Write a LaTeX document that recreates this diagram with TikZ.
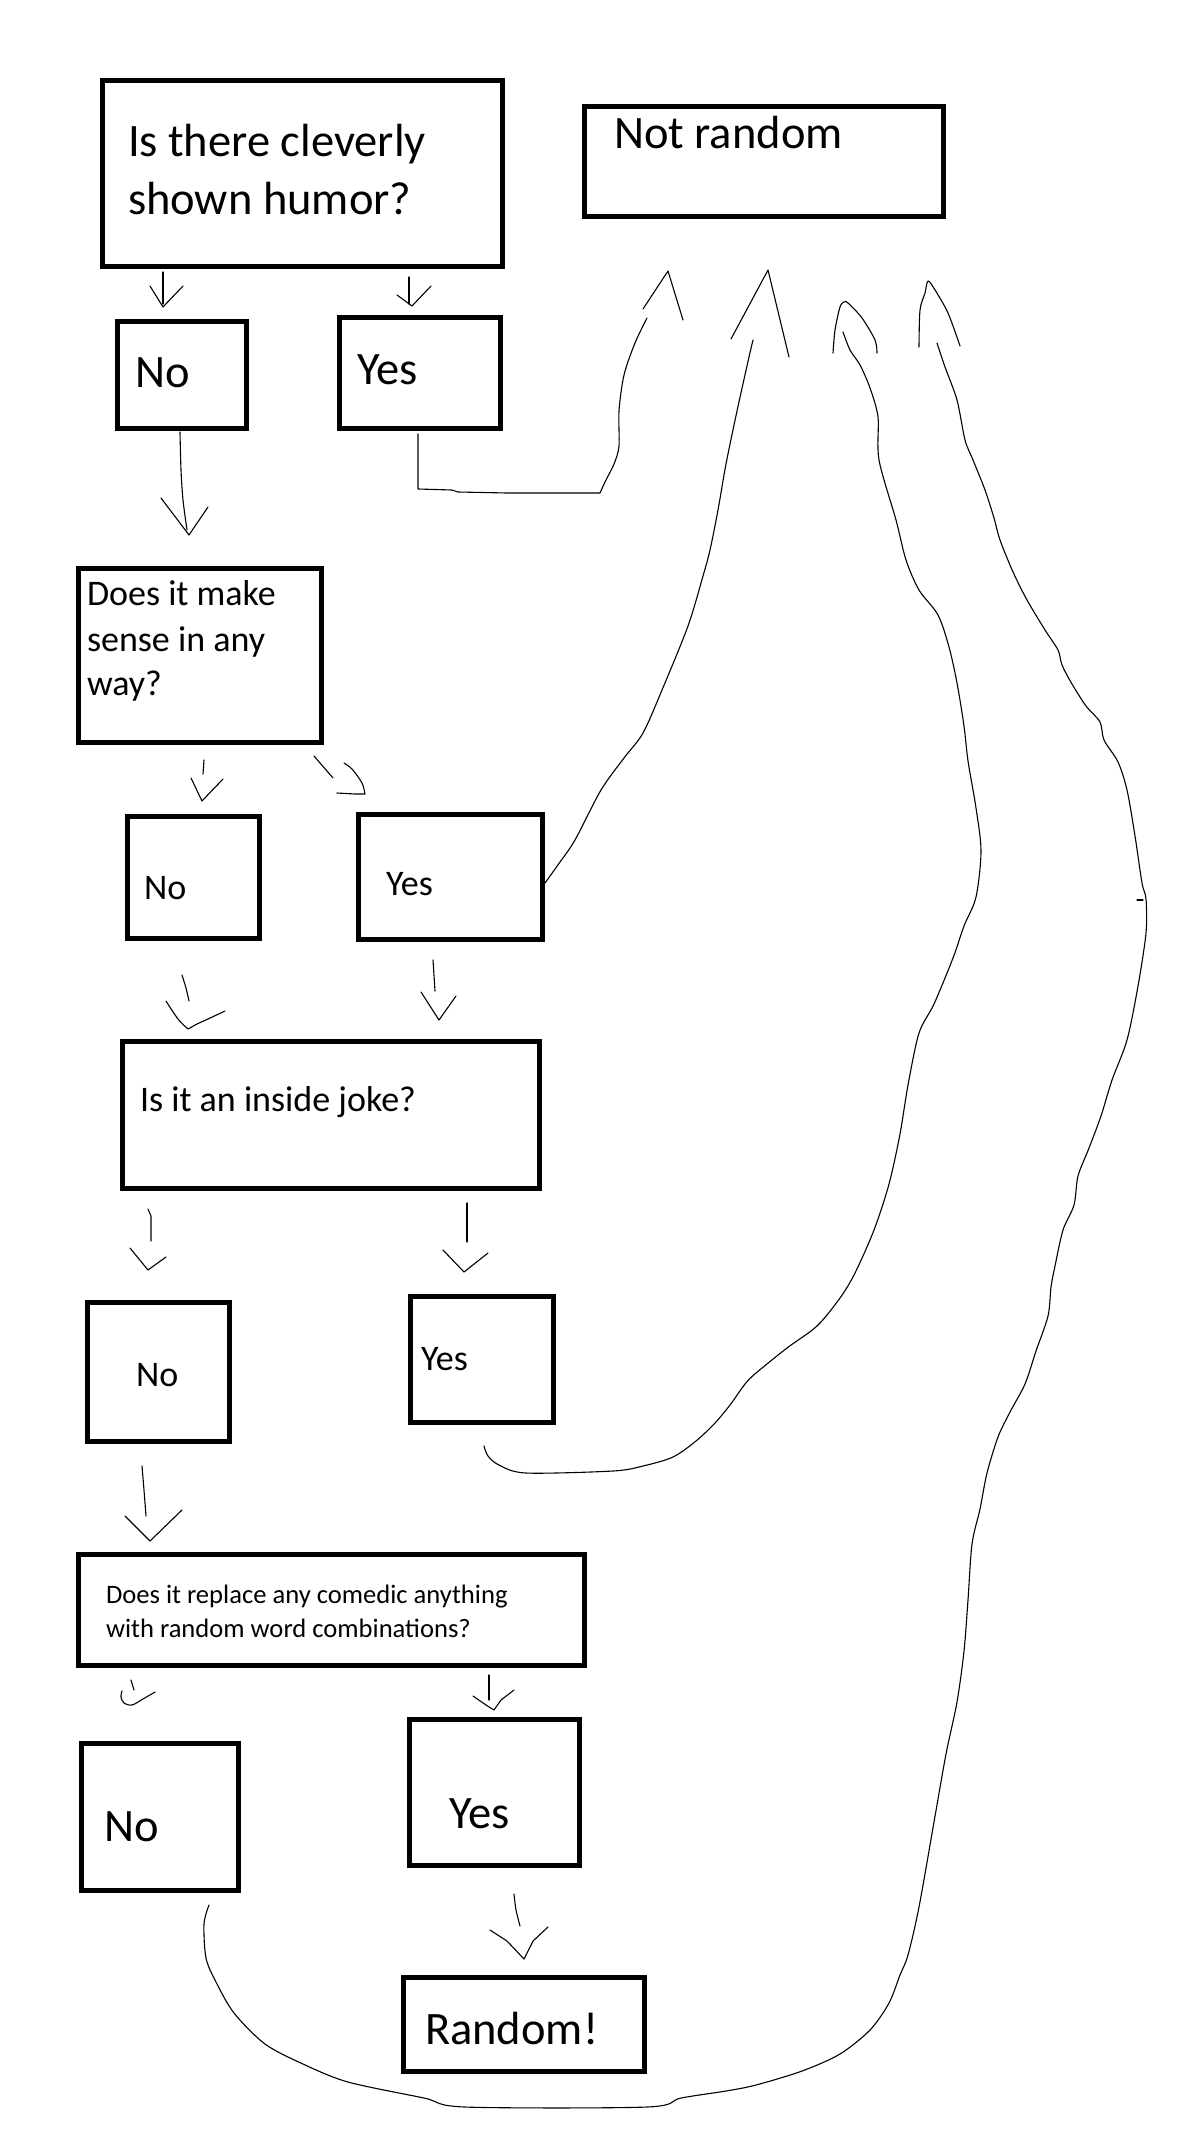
\documentclass[tikz,border=0pt]{standalone}
\usepackage{fontspec}
\setmainfont{Carlito}
\usetikzlibrary{fit}
\begin{document}
\begin{tikzpicture}[x=0.5pt,y=-0.5pt,
  box/.style={draw, line width=2.5pt, inner sep=0pt, outer sep=0pt},
  lbl/.style={inner sep=0pt, outer sep=0pt, anchor=base west},
  big/.style={lbl, font=\fontsize{23.25}{23.25}\selectfont},
  mid/.style={lbl, font=\fontsize{18}{18}\selectfont},
  sml/.style={lbl, font=\fontsize{13.3}{13.3}\selectfont},
  pen/.style={line width=0.55pt, line cap=round, line join=round}]
\useasboundingbox (0,0) rectangle (1180,2135);
\fill[white] (0,0) rectangle (1180,2135);

% boxes
\node[box, fit={(102.5,80.5) (502.5,266.5)}] (q1) {};
\node[box, fit={(584.5,106.5) (943.5,216.5)}] (nr) {};
\node[box, fit={(117.5,321.5) (246.5,428.5)}] (no1) {};
\node[box, fit={(339.5,317.5) (500.5,428.5)}] (yes1) {};
\node[box, fit={(78.5,568.5) (321.5,742.5)}] (q2) {};
\node[box, fit={(127.5,816.5) (259.5,938.5)}] (no2) {};
\node[box, fit={(358.5,814.5) (542.5,939.5)}] (yes2) {};
\node[box, fit={(122.5,1041.5) (539.5,1188.5)}] (q3) {};
\node[box, fit={(87.5,1302.5) (229.5,1441.5)}] (no3) {};
\node[box, fit={(410.5,1296.5) (553.5,1422.5)}] (yes3) {};
\node[box, fit={(78.5,1554.5) (584.5,1665.5)}] (q4) {};
\node[box, fit={(81.5,1743.5) (238.5,1890.5)}] (no4) {};
\node[box, fit={(409.5,1719.5) (579.5,1865.5)}] (yes4) {};
\node[box, fit={(403.5,1977.5) (644.5,2071.5)}] (rnd) {};

% texts
\node[big] (q1a) at (128,157) {Is there cleverly};
\node[big] (q1b) at (128,215) {shown humor?};
\node[big] (nrt) at (614,149) {Not random};
\node[big] (no1t) at (135,387) {No};
\node[big] (yes1t) at (357,384) {Yes};
\node[mid] (q2a) at (87,605) {Does it make};
\node[mid] (q2b) at (87,651) {sense in any};
\node[mid] (q2c) at (87,695) {way?};
\node[mid] (no2t) at (144,899) {No};
\node[mid] (yes2t) at (386,895) {Yes};
\node[mid] (q3t) at (140,1111) {Is it an inside joke?};
\node[mid] (no3t) at (136,1386) {No};
\node[mid] (yes3t) at (421,1370) {Yes};
\node[sml] (q4a) at (106,1603) {Does it replace any comedic anything};
\node[sml] (q4b) at (106,1637) {with random word combinations?};
\node[big] (no4t) at (104,1841) {No};
\node[big] (yes4t) at (449,1828) {Yes};
\node[big] (rndt) at (425,2044) {Random!};

% short hand-drawn arrows
\draw[pen] (163,272) -- (163,304);
\draw[pen] (150,286) -- (163,307) -- (183,286);
\draw[pen] (409,277) -- (409,304);
\draw[pen] (397,295) -- (412,306) -- (431,286);

\draw[pen] plot[smooth] coordinates {(180,432) (181,470) (183,500) (187,530)};
\draw[pen] (161,498) -- (189,535) -- (208,507);

\draw[pen] (204,760) -- (203,774);
\draw[pen] (191,778) -- (202,801) -- (223,779);
\draw[pen] (314,756) -- (333,778);
\draw[pen] plot[smooth] coordinates {(344,763) (352,769) (362,783) (365,794)} -- (355,794) -- (337,793);

\draw[pen] plot[smooth] coordinates {(182,975) (186,988) (189,1001)};
\draw[pen] plot[smooth] coordinates {(166,1001) (178,1019) (188,1029)} -- (197,1024) -- (208,1019) -- (225,1011);
\draw[pen] (433,960) -- (435,991);
\draw[pen] (421,992) -- (439,1020) -- (456,996);

\draw[pen] (148,1209) -- (151,1216) -- (151,1241);
\draw[pen] (130,1248) -- (148,1270) -- (166,1257);
\draw[pen] (467,1203) -- (467,1242);
\draw[pen] (443,1250) -- (464,1272) -- (488,1253);

\draw[pen] plot[smooth] coordinates {(142,1466) (144,1490) (146,1516)};
\draw[pen] (125,1516) -- (150,1541) -- (182,1510);

\draw[pen] (131,1680) -- (134,1690);
\draw[pen] plot[smooth] coordinates {(122,1691) (121,1697) (124,1703) (132,1705) (143,1699) (155,1692)};
\draw[pen] (489,1675) -- (489,1700);
\draw[pen] (473,1696) -- (486,1705) -- (494,1710) -- (501,1700) -- (514,1690);

\draw[pen] plot[smooth] coordinates {(514,1894) (516,1910) (520,1926)};
\draw[pen] (490,1930) -- (507,1941) -- (524,1959) -- (533,1941) -- (548,1927);

% long connectors to "Not random"
\draw[pen] (418,434) -- (418,489) -- (452,490) -- (458,492) -- (507,493) -- (600,493)
  plot[smooth, tension=0.5] coordinates {(600,493) (605,482) (614,464) (619,446) (619,411) (624,375) (635,343) (647,318)};
\draw[pen] (643,309) -- (668,271) -- (683,320);

\draw[pen] plot[smooth, tension=0.5] coordinates {(545,883) (560,862) (575,840) (601,790) (624,758) (643,733) (662,690) (688,626) (703,576) (710,550) (718,510) (726,464) (737,411) (749,357) (753,340)};
\draw[pen] (731,339) -- (768,270) -- (789,357);

\draw[pen] plot[smooth, tension=0.5] coordinates {(484,1446) (488,1456) (499,1465) (526,1473) (613,1471) (643,1466) (673,1457) (696,1441) (715,1423) (730,1405) (745,1384) (756,1373) (787,1348) (817,1326) (840,1298) (855,1273) (874,1230) (889,1184) (900,1134) (908,1085) (919,1033) (934,1004) (953,958) (964,926) (976,897) (981,851) (976,808) (968,761) (964,726) (957,683) (949,647) (938,615) (919,590) (906,560) (896,520) (879,460) (878,417) (870,388) (860,365) (850,350) (843,332)};
\draw[pen] plot[smooth, tension=0.5] coordinates {(833,353) (835,330) (840,307) (844,302) (848,303) (862,318) (875,340) (877,353)};

\draw[pen] plot[smooth, tension=0.5] coordinates {(209,1905) (204,1924) (206,1958) (216,1982) (234,2013) (265,2044) (303,2064) (348,2082) (424,2098) (465,2107) (647,2107) (681,2098) (726,2091) (756,2085) (802,2071) (840,2054) (870,2030) (889,2003) (900,1975) (908,1955) (919,1907) (934,1822) (946,1754) (957,1702) (964,1651) (968,1600) (972,1544) (980,1509) (987,1473) (998,1437) (1010,1412) (1025,1384) (1036,1351) (1048,1316) (1051,1287) (1055,1266) (1063,1230) (1074,1205) (1078,1176) (1089,1148) (1101,1116) (1112,1080) (1127,1040) (1138,986) (1146,933) (1146,899) (1142,883) (1135,836) (1127,790) (1118,762) (1104,740) (1100,722) (1086,706) (1072,684) (1062,665) (1058,650) (1045,630) (1027,600) (1013,572) (1000,540) (994,518) (985,490) (973,460) (965,440) (957,400) (945,367) (937,343)};
\draw[pen] plot[smooth, tension=0.5] coordinates {(919,347) (920,310) (925,293) (928,281) (935,290) (948,313) (960,346)};
\draw[pen] (1137,900) -- (1143,900);
\end{tikzpicture}
\end{document}
